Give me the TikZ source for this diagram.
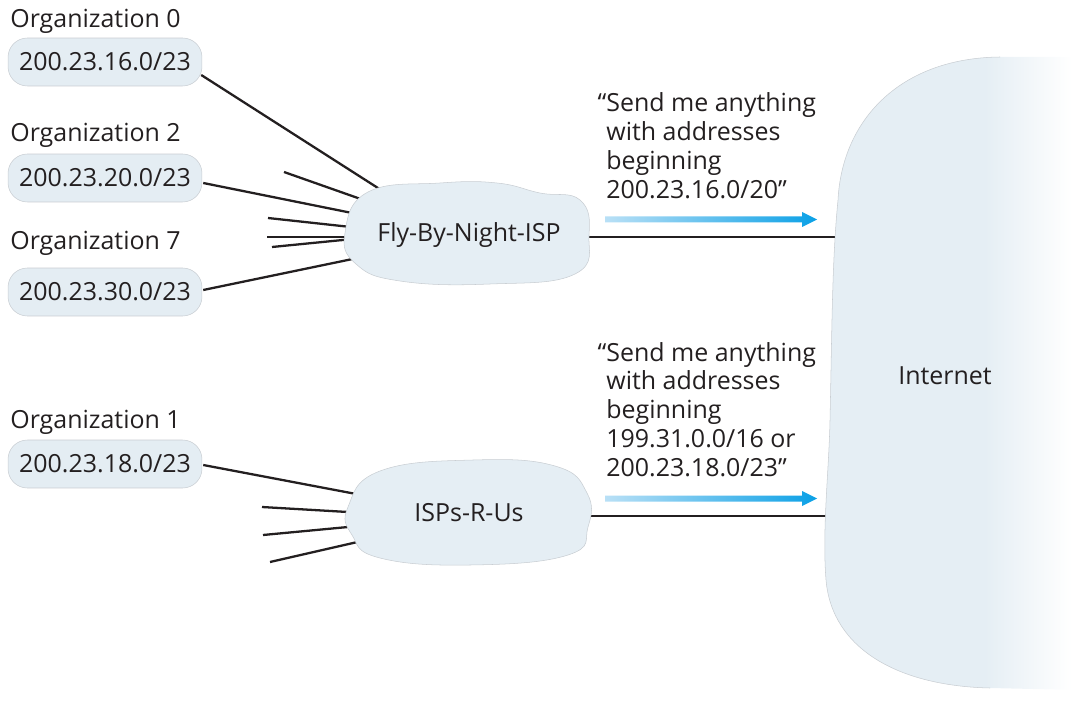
\documentclass[tikz,border=0pt]{standalone}
\usepackage{fontspec}
\setmainfont{Open Sans}
\definecolor{pillc}{RGB}{228,237,243}
\definecolor{cloudc}{RGB}{229,238,244}
\definecolor{edgec}{RGB}{200,205,210}
\definecolor{arrowL}{RGB}{185,224,246}
\definecolor{arrowR}{RGB}{10,160,230}
\definecolor{txt}{RGB}{35,31,32}
\pgfdeclarehorizontalshading{inetshade}{100bp}{color(0bp)=(cloudc); color(57bp)=(cloudc); color(74bp)=(white); color(100bp)=(white)}
\tikzset{
  pill/.style={rectangle, rounded corners=11pt, fill=pillc, draw=edgec, line width=0.3pt,
    minimum width=3.88cm, minimum height=0.96cm, inner sep=0pt, text=txt},
  orglabel/.style={anchor=base west, inner sep=0pt, text=txt},
  cloudlabel/.style={inner sep=0pt, text=txt},
  msg/.style={anchor=base west, inner sep=0pt, text=txt},
  link/.style={draw=txt, line width=1.3pt},
  cloudfill/.style={fill=cloudc, draw=edgec, line width=0.3pt},
  gradarrow/.pic={
    \shade[left color=arrowL, right color=arrowR]
      (0,-3) -- (197,-3) -- (197,-7.5) -- (212,0) -- (197,7.5) -- (197,3) -- (0,3) -- cycle;
  }
}
\begin{document}
\begin{tikzpicture}[x=0.02cm, y=-0.02cm, font=\fontsize{14.2}{16.4}\selectfont]
\useasboundingbox (0,0) rectangle (1077,702);

% organization labels and address pills
\node[orglabel] (o0) at (10,28) {Organization 0};
\node[pill] (p0) at (105,62) {200.23.16.0/23};
\node[orglabel] (o2) at (10,142) {Organization 2};
\node[pill] (p2) at (105,178) {200.23.20.0/23};
\node[orglabel] (o7) at (10,250) {Organization 7};
\node[pill] (p7) at (105,292) {200.23.30.0/23};
\node[orglabel] (o1) at (10,428) {Organization 1};
\node[pill] (p1) at (105,464) {200.23.18.0/23};

% connector end points (inside the clouds)
\coordinate (f0) at (392,197);
\coordinate (f2) at (362,215);
\coordinate (f7) at (367,256);
\coordinate (sa0) at (284,172); \coordinate (sa1) at (372,203);
\coordinate (sb0) at (268,218); \coordinate (sb1) at (360,228);
\coordinate (sc0) at (267,237); \coordinate (sc1) at (360,237);
\coordinate (sd0) at (272,247); \coordinate (sd1) at (360,238.3);
\coordinate (r1) at (372,497);
\coordinate (se0) at (262,507); \coordinate (se1) at (365,513);
\coordinate (sf0) at (263,535); \coordinate (sf1) at (365,525.4);
\coordinate (sg0) at (270,562); \coordinate (sg1) at (368,539.6);
\coordinate (flyIn) at (575,237); \coordinate (inetA) at (845,237);
\coordinate (ispIn) at (575,516); \coordinate (inetB) at (835,516);

% connectors
\draw[link] (p0.east) ++(-1,13) -- (f0);
\draw[link] (p2.east) ++(1,5) -- (f2);
\draw[link] (p7.east) ++(1,-2) -- (f7);
\draw[link] (sa0) -- (sa1);
\draw[link] (sb0) -- (sb1);
\draw[link] (sc0) -- (sc1);
\draw[link] (sd0) -- (sd1);
\draw[link] (p1.east) ++(1,1) -- (r1);
\draw[link] (se0) -- (se1);
\draw[link] (sf0) -- (sf1);
\draw[link] (sg0) -- (sg1);
\draw[link] (flyIn) -- (inetA);
\draw[link] (ispIn) -- (inetB);

% clouds
\path[cloudfill] plot[smooth cycle, tension=0.75] coordinates {
  (345,233) (368,192) (440,183) (497,183) (540,193) (580,200)
  (589,235) (575,274) (490,284) (400,281) (356,264)};
\path[cloudfill] plot[smooth cycle, tension=0.75] coordinates {
  (348,507) (380,471) (473,460) (555,466) (587,493) (588,527)
  (568,555) (470,565) (380,558) (352,535)};

% internet
\shade[shading=inetshade]
  (1077,57) -- (1000,57) .. controls (900,58) and (842,120) .. (838,200)
  .. controls (832,260) and (832,330) .. (830,420)
  .. controls (829,470) and (822,530) .. (826,580)
  .. controls (832,650) and (900,686) .. (990,688) -- (1077,690) -- cycle;
\draw[edgec, line width=0.3pt]
  (1000,57) .. controls (900,58) and (842,120) .. (838,200)
  .. controls (832,260) and (832,330) .. (830,420)
  .. controls (829,470) and (822,530) .. (826,580)
  .. controls (832,650) and (900,686) .. (990,688);

\node[cloudlabel] (fly) at (469,235) {Fly-By-Night-ISP};
\node[cloudlabel] (isp) at (469,513) {ISPs-R-Us};
\node[cloudlabel] (inet) at (945,376) {Internet};

% advertisements
\node[msg] (m1) at (606,112) {\begin{tabular}[t]{@{}l@{}}\llap{“}Send me anything\\with addresses\\beginning\\200.23.16.0/20”\end{tabular}};
\pic at (605,219.5) {gradarrow};
\node[msg] (m2) at (606,361) {\begin{tabular}[t]{@{}l@{}}\llap{“}Send me anything\\with addresses\\beginning\\199.31.0.0/16 or\\200.23.18.0/23”\end{tabular}};
\pic at (605,498.5) {gradarrow};
\end{tikzpicture}
\end{document}
